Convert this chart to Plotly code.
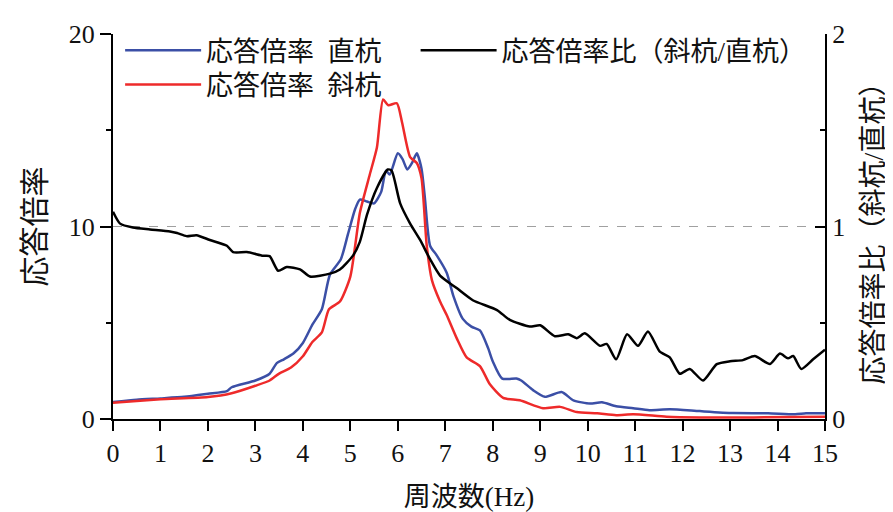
import plotly.graph_objects as go

# ---- data ----
blue_x = [0, 0.5, 1.0, 1.5, 2.0, 2.4, 2.5, 3.0, 3.3, 3.45, 3.6, 3.8, 4.0, 4.2, 4.4, 4.57, 4.8, 4.95,
          5.1, 5.2, 5.35, 5.5, 5.65, 5.75, 5.83, 6.0, 6.1, 6.2, 6.3, 6.4, 6.5, 6.57, 6.68, 6.82, 7.03,
          7.17, 7.37, 7.55, 7.73, 7.9, 8.0, 8.2, 8.5, 8.6, 8.85, 9.1, 9.45, 9.7, 10.05, 10.3, 10.6,
          10.96, 11.3, 11.73, 12.36, 13.06, 13.8, 14.37, 14.6, 15.0]
blue_y = [0.88, 1.0, 1.07, 1.15, 1.31, 1.45, 1.65, 2.0, 2.35, 2.9, 3.1, 3.4, 3.95, 4.9, 5.7, 7.5, 8.3, 9.6,
          10.9, 11.4, 11.3, 11.2, 11.8, 12.9, 12.7, 13.8, 13.5, 12.96, 13.3, 13.8, 13.0, 11.5, 9.0, 8.5, 7.6,
          6.4, 5.2, 4.8, 4.6, 3.7, 3.0, 2.1, 2.1, 2.0, 1.5, 1.15, 1.4, 0.97, 0.8, 0.87, 0.66,
          0.56, 0.46, 0.51, 0.41, 0.31, 0.3, 0.25, 0.3, 0.3]

red_x = [0, 1.0, 2.0, 2.5, 3.0, 3.3, 3.5, 3.75, 4.0, 4.2, 4.4, 4.55, 4.78, 5.0, 5.2, 5.41, 5.56, 5.69,
         5.8, 5.98, 6.09, 6.26, 6.4, 6.5, 6.61, 6.72, 6.89, 7.03, 7.24, 7.45, 7.73, 7.94, 8.22, 8.57,
         9.06, 9.42, 9.77, 10.2, 10.6, 10.96, 11.66, 12.36, 13.5, 15.0]
red_y = [0.85, 1.02, 1.14, 1.34, 1.73, 2.0, 2.36, 2.67, 3.26, 4.0, 4.5, 5.7, 6.1, 7.4, 10.7, 12.7, 14.1, 16.6,
         16.3, 16.4, 15.4, 13.6, 13.3, 12.5, 9.0, 7.2, 6.1, 5.4, 4.2, 3.2, 2.75, 1.8, 1.1, 0.97,
         0.56, 0.63, 0.36, 0.3, 0.2, 0.25, 0.12, 0.08, 0.08, 0.12]

ratio_x = [0, 0.15, 0.42, 0.78, 1.2, 1.35, 1.55, 1.76, 2.04, 2.4, 2.53, 2.82, 3.16, 3.3, 3.48, 3.66,
           3.94, 4.15, 4.57, 4.78, 5.06, 5.2, 5.35, 5.56, 5.79, 5.87, 6.05, 6.26, 6.47, 6.68, 6.89,
           7.24, 7.58, 8.09, 8.36, 8.78, 9.0, 9.31, 9.59, 9.77, 9.94, 10.26, 10.4, 10.6, 10.83, 11.06,
           11.27, 11.52, 11.73, 11.94, 12.15, 12.43, 12.72, 13.0, 13.27, 13.52, 13.84, 14.05, 14.22,
           14.33, 14.5, 14.75, 15.0]
ratio_y = [1.077, 1.015, 0.995, 0.985, 0.974, 0.966, 0.95, 0.955, 0.93, 0.90, 0.867, 0.867, 0.848, 0.846,
           0.77, 0.79, 0.777, 0.74, 0.755, 0.777, 0.85, 0.92, 1.06, 1.2, 1.296, 1.29, 1.12, 1.015, 0.93,
           0.83, 0.745, 0.68, 0.617, 0.566, 0.515, 0.48, 0.487, 0.43, 0.44, 0.42, 0.445, 0.38, 0.39,
           0.31, 0.44, 0.38, 0.455, 0.35, 0.32, 0.235, 0.26, 0.2, 0.285, 0.3, 0.306, 0.327, 0.286,
           0.34, 0.315, 0.327, 0.26, 0.31, 0.36]

x_ticks = list(range(0, 16))
name_blue = "応答倍率\u2002直杭"
name_red = "応答倍率\u2002斜杭"
name_ratio = "応答倍率比（斜杭/直杭）"
x_title = "周波数(Hz)"
y_title = "応答倍率"
y2_title = "応答倍率比（斜杭/直杭）"

FONT = "Liberation Serif, Noto Sans CJK JP"
NUMFONT = "Liberation Serif, serif"

fig = go.Figure()
fig.add_trace(go.Scatter(x=blue_x, y=blue_y, mode="lines", name=name_blue,
                         line=dict(color="#3b4fa6", width=2.5, shape="spline", smoothing=0.6),
                         legend="legend"))
fig.add_trace(go.Scatter(x=red_x, y=red_y, mode="lines", name=name_red,
                         line=dict(color="#ee2a2a", width=2.5, shape="spline", smoothing=0.6),
                         legend="legend3"))
fig.add_trace(go.Scatter(x=ratio_x, y=ratio_y, mode="lines", name=name_ratio, yaxis="y2",
                         line=dict(color="#000000", width=2.5, shape="spline", smoothing=0.6),
                         legend="legend2"))

fig.add_shape(type="line", xref="paper", x0=0, x1=1, yref="y2", y0=1, y1=1,
              line=dict(color="#a0a0a0", width=1.2, dash="dash"), layer="below")

leg_common = dict(xanchor="left", yanchor="top", bgcolor="rgba(0,0,0,0)", itemwidth=76,
                  font=dict(size=27, family=FONT))

fig.update_layout(
    width=893, height=512,
    margin=dict(l=105, r=76, t=19, b=101),
    paper_bgcolor="white", plot_bgcolor="white",
    font=dict(family=FONT, size=26, color="#111111"),
    showlegend=True,
    legend=dict(x=0.01, y=1.02, **leg_common),
    legend3=dict(x=0.01, y=0.931, **leg_common),
    legend2=dict(x=0.425, y=1.02, **leg_common),
    xaxis=dict(range=[0, 15], tickvals=x_ticks, ticks="outside", ticklen=10, tickwidth=2,
               tickcolor="black", showline=True, linecolor="black", linewidth=2, showgrid=False,
               zeroline=False, title=dict(text=x_title, font=dict(size=27, family=FONT), standoff=20),
               tickfont=dict(size=26, family=NUMFONT)),
    yaxis=dict(range=[0, 20], tickvals=[0, 10, 20], ticks="outside", ticklen=11, tickwidth=2,
               tickcolor="black", showline=True, linecolor="black", linewidth=2, showgrid=False,
               zeroline=False, title=dict(text=y_title, font=dict(size=30, family=FONT), standoff=14),
               tickfont=dict(size=26, family=NUMFONT),
               minor=dict(dtick=5, ticks="outside", ticklen=5, tickwidth=2, tickcolor="black")),
    yaxis2=dict(range=[0, 2], tickvals=[0, 1, 2], overlaying="y", side="right", ticks="inside",
                ticklen=10, tickwidth=2, tickcolor="black", showline=True, linecolor="black",
                linewidth=2, showgrid=False, zeroline=False,
                title=dict(text=y2_title, font=dict(size=28, family=FONT), standoff=19),
                tickfont=dict(size=26, family=NUMFONT),
                minor=dict(dtick=0.5, ticks="inside", ticklen=5, tickwidth=2, tickcolor="black")),
)

fig.write_html("out.html")
